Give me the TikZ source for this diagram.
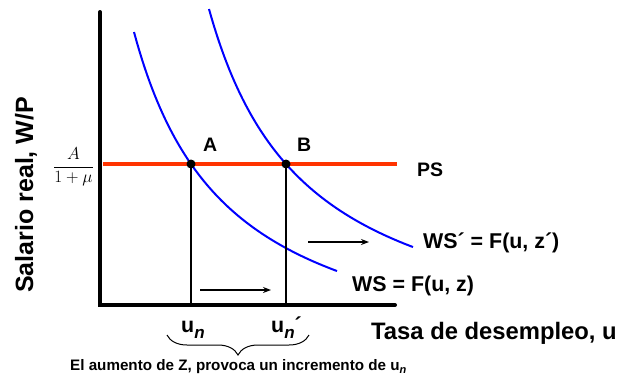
\documentclass[tikz,border=0pt]{standalone}
\usepackage{fontspec}
\setmainfont{Liberation Sans}
\usetikzlibrary{arrows.meta,decorations.pathreplacing}
\definecolor{psred}{RGB}{255,51,0}
\newcommand{\fsz}[1]{\fontsize{#1}{#1}\selectfont}
\begin{document}
\begin{tikzpicture}[x=1pt,y=-1pt,
  axis/.style={line width=4pt, line cap=round},
  curve/.style={blue, line width=2pt},
  psline/.style={psred, line width=4pt},
  lab/.style={font=\bfseries\fsz{21.4}, inner sep=0pt, anchor=base west},
  drop/.style={line width=1.5pt},
  shiftarrow/.style={-{Stealth[length=8pt,width=6pt]}, line width=1.2pt},
  dot/.style={circle, fill=black, minimum size=9pt, inner sep=0pt}]
\useasboundingbox (0,0) rectangle (624,378);
% axes
\coordinate (Ytop) at (100,12);
\coordinate (O) at (100,305);
\coordinate (Xend) at (395,305);
\draw[axis] (Ytop) -- (O) -- (Xend);
% PS line
\coordinate (PSl) at (103,164);
\coordinate (PSr) at (397,164);
\draw[psline] (PSl) -- (PSr);
% WS curves
\draw[curve] plot[domain=134:337, samples=80] (\x, {381.7 - 100*(328.7/(\x-40))});
\draw[curve] plot[domain=209:413, samples=80] (\x, {361.5 - 100*(345.77/(\x-110.9))});
% equilibrium points
\node[dot] (A) at (191,164) {};
\node[dot] (B) at (286,164) {};
\coordinate (Ad) at (191,305);
\coordinate (Bd) at (286,305);
\draw[drop] (A.center) -- (Ad);
\draw[drop] (B.center) -- (Bd);
\node[lab, font=\bfseries\fsz{19.5}] (la) at (203,151) {A};
\node[lab, font=\bfseries\fsz{19.5}] (lb) at (297,151) {B};
% shift arrows
\coordinate (a1s) at (200,290);
\coordinate (a1e) at (271,290);
\coordinate (a2s) at (308,242);
\coordinate (a2e) at (369,242);
\draw[shiftarrow] (a1s) -- (a1e);
\draw[shiftarrow] (a2s) -- (a2e);
% labels
\node[lab, font=\bfseries\fsz{19.5}] (ps) at (417,176) {PS};
\node[lab] (ws) at (352,291.5) {WS = F(u, z)};
\node[lab] (wsp) at (423,248) {WS´ = F(u, z´)};
\node[lab, font=\bfseries\fsz{23.8}] (xl) at (371,339) {Tasa de desempleo, u};
\node[lab, font=\bfseries\fsz{25}, rotate=90] (yl) at (33,293) {Salario real, W/P};
\node[inner sep=0pt, font=\fsz{17.5}] (frac) at (73.5,167) {$\displaystyle\frac{A}{1+\mu}$};
% u_n labels
\node[lab] (un) at (181,332) {u\raisebox{-6pt}{\fsz{17}\itshape n}};
\node[lab] (unp) at (271,332) {u\raisebox{-6pt}{\fsz{17}\itshape n}´};
% brace
\coordinate (bl) at (167,335);
\coordinate (br) at (309,335);
\draw[line width=1pt, decorate, decoration={brace, mirror, amplitude=20pt}] (bl) -- (br);
\node[lab, font=\bfseries\fsz{15.2}] (note) at (70,370) {El aumento de Z, provoca un incremento de u\raisebox{-3pt}{\fsz{11}\itshape n}};
\end{tikzpicture}
\end{document}
